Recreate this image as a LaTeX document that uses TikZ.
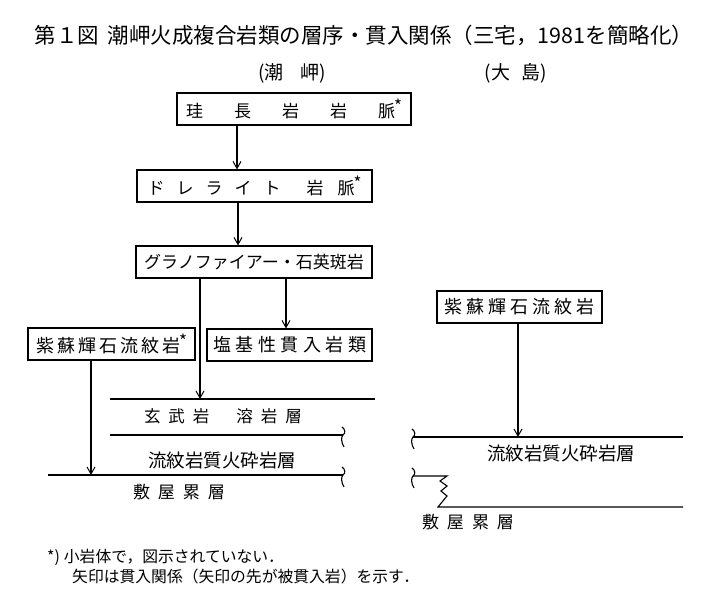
\documentclass[tikz,border=0pt]{standalone}
\usepackage{fontspec}
\newfontfamily\jpfont{Noto Sans CJK JP}
\usetikzlibrary{arrows.meta}
\begin{document}
\begin{tikzpicture}[x=1pt,y=-1pt,
  box/.style={draw, line width=1.2pt, minimum height=32pt, inner sep=0pt, anchor=center,
              font=\jpfont\fontsize{17}{20}\selectfont},
  arr/.style={line width=1.1pt, -{Straight Barb[length=7pt,width=8pt,line width=1pt]}},
  ln/.style={line width=1.1pt},
  lbl/.style={inner sep=0pt, font=\jpfont\fontsize{17}{20}\selectfont},
  ttl/.style={inner sep=0pt, font=\jpfont\fontsize{21.5}{24}\selectfont},
  subt/.style={inner sep=0pt, font=\jpfont\fontsize{19}{21}\selectfont},
  note/.style={inner sep=0pt, anchor=west, font=\jpfont\fontsize{15.8}{18}\selectfont},
  wavemark/.pic={\draw[line width=1.1pt] (-1,-8) .. controls (2,-6) and (3,-2) .. (0,0)
                 .. controls (-2,2) and (-2,7) .. (1,12);}]
\useasboundingbox (0,0) rectangle (713,601);
% title
\node[ttl] (title) at (364,35) {第１図\hspace{0.4em}潮岬火成複合岩類の層序・貫入関係（三宅，1981を簡略化）};
\node[subt] (subA) at (292,73) {(潮\hspace{0.9em}岬)};
\node[subt] (subB) at (516,73) {(大\hspace{0.6em}島)};
% boxes
\newcommand\astmark{\raisebox{5pt}{\fontsize{17}{17}\selectfont *}}
\node[box, minimum width=234pt] (b1) at (294,109)
  {珪\hspace{31pt}長\hspace{31pt}岩\hspace{31pt}岩\hspace{31pt}脈\hspace{-1pt}\astmark\hspace{-9pt}};
\node[box, minimum width=235pt] (b2) at (254.5,186)
  {ド\hspace{12pt}レ\hspace{12pt}ラ\hspace{12pt}イ\hspace{12pt}ト\hspace{26pt}岩\hspace{14pt}脈\hspace{-1pt}\astmark\hspace{-13pt}};
\node[box, minimum width=236pt] (b3) at (254,262) {グラノファイアー・石英斑岩};
\node[box, minimum width=167pt, font=\jpfont\fontsize{18}{20}\selectfont] (b4) at (111.5,344)
  {紫\hspace{3pt}蘇\hspace{3pt}輝\hspace{3pt}石\hspace{3pt}流\hspace{3pt}紋\hspace{3pt}岩\hspace{-1pt}\astmark};
\node[box, minimum width=165pt, font=\jpfont\fontsize{18}{20}\selectfont] (b5) at (289.5,345)
  {塩\hspace{4.5pt}基\hspace{4.5pt}性\hspace{4.5pt}貫\hspace{4.5pt}入\hspace{4.5pt}岩\hspace{4.5pt}類};
\node[box, minimum width=165pt, font=\jpfont\fontsize{18}{20}\selectfont] (b6) at (519.5,307)
  {紫\hspace{4pt}蘇\hspace{4pt}輝\hspace{4pt}石\hspace{4pt}流\hspace{4pt}紋\hspace{4pt}岩};
% strata lines
\draw[ln] (110,399) -- (375,399);
\draw[ln] (110,435) -- (343,435);
\pic at (343,435) {wavemark};
\draw[ln] (48,475) -- (343,475);
\pic at (343,475) {wavemark};
\draw[ln] (413,437) -- (683,437);
\pic at (413,437) {wavemark};
\draw[ln] (413,476) -- (447,476) -- (440,481) -- (447,486) -- (441,491) -- (447,496) -- (438,507) -- (683,507);
\pic at (413,476) {wavemark};
% strata labels
\node[lbl, font=\jpfont\fontsize{16.5}{20}\selectfont] (basalt) at (223,416)
  {玄\hspace{8pt}武\hspace{8pt}岩\hspace{27pt}溶\hspace{8pt}岩\hspace{8pt}層};
\node[lbl, font=\jpfont\fontsize{18.5}{20}\selectfont] (pyroA) at (222,460) {流紋岩質火砕岩層};
\node[lbl] (shikiA) at (179,492) {敷\hspace{8pt}屋\hspace{8pt}累\hspace{8pt}層};
\node[lbl, font=\jpfont\fontsize{18.5}{20}\selectfont] (pyroB) at (561,453) {流紋岩質火砕岩層};
\node[lbl] (shikiB) at (468,522) {敷\hspace{8pt}屋\hspace{8pt}累\hspace{8pt}層};
% arrow end points
\coordinate (xa) at (237,0);
\coordinate (xb) at (238,0);
\coordinate (xc) at (286,0);
\coordinate (t1) at (200,399);
\coordinate (t2) at (91,475);
\coordinate (t3) at (518,437);
% arrows
\draw[arr] (b1.south -| xa) -- (b2.north -| xa);
\draw[arr] (b2.south -| xb) -- (b3.north -| xb);
\draw[arr] (b3.south -| t1) -- (t1);
\draw[arr] (b3.south -| xc) -- (b5.north -| xc);
\draw[arr] (b4.south -| t2) -- (t2);
\draw[arr] (b6.south -| t3) -- (t3);
% footnote
\node[note] (n1) at (47,557) {*)\hspace{4pt}小岩体で，図示されていない．};
\node[note] (n2) at (72,576) {矢印は貫入関係（矢印の先が被貫入岩）を示す．};
\end{tikzpicture}
\end{document}
